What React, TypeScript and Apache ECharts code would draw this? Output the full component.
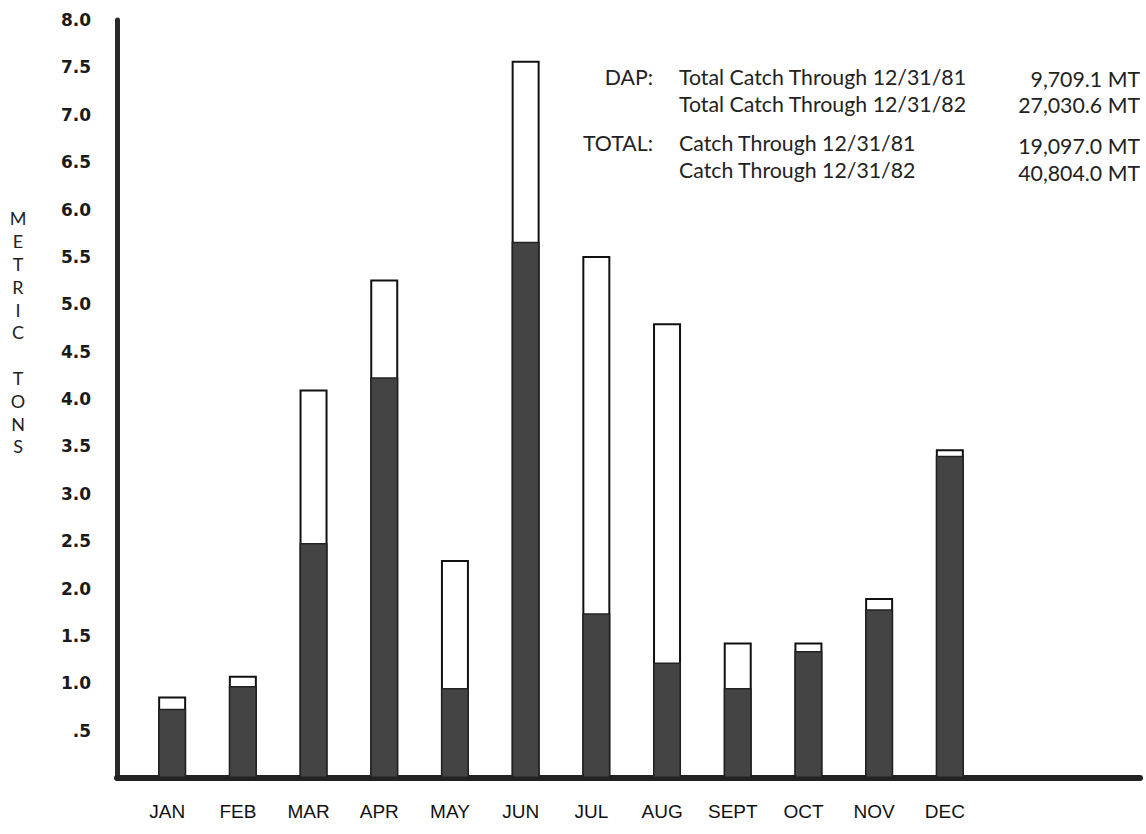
import React, { useEffect, useRef } from "react";
import * as echarts from "echarts";

const months = ["JAN", "FEB", "MAR", "APR", "MAY", "JUN", "JUL", "AUG", "SEPT", "OCT", "NOV", "DEC"];
const totalCatch = [0.86, 1.08, 4.1, 5.26, 2.3, 7.57, 5.51, 4.8, 1.43, 1.43, 1.9, 3.47];
const dapCatch = [0.73, 0.97, 2.48, 4.23, 0.95, 5.66, 1.74, 1.22, 0.95, 1.34, 1.78, 3.4];
const yTickLabels = ["", ".5", "1.0", "1.5", "2.0", "2.5", "3.0", "3.5", "4.0", "4.5", "5.0", "5.5", "6.0", "6.5", "7.0", "7.5", "8.0"];
const yAxisTitle = ["M", "E", "T", "R", "I", "C", "", "T", "O", "N", "S"];
const noteHeads = ["DAP:", "TOTAL:"];
const noteLines = [
  "Total Catch Through 12/31/81",
  "Total Catch Through 12/31/82",
  "Catch Through 12/31/81",
  "Catch Through 12/31/82",
];
const noteValues = ["9,709.1 MT", "27,030.6 MT", "19,097.0 MT", "40,804.0 MT"];

const FIRST_OFFSET = 0.78;
const LABEL_SHIFT = -0.07;
const xPos = months.map((_, i) => i + FIRST_OFFSET);

export default function App() {
  const ref = useRef<HTMLDivElement>(null);
  useEffect(() => {
    if (!ref.current) return;
    const chart = echarts.init(ref.current, undefined, { renderer: "svg" });
    const noteFont = "21.3px Lato";
    const headYs = [77, 143];
    const lineYs = [77, 104, 143, 170];
    const valueYs = [79, 105, 146, 173];
    const graphics: any[] = [];
    noteHeads.forEach((t, i) => {
      graphics.push({
        type: "text",
        x: 653,
        y: headYs[i],
        style: { text: t, font: noteFont, fill: "#222", textAlign: "right", textVerticalAlign: "middle" },
      });
    });
    noteLines.forEach((t, i) => {
      graphics.push({
        type: "text",
        x: 679,
        y: lineYs[i],
        style: { text: t, font: noteFont, fill: "#222", textAlign: "left", textVerticalAlign: "middle" },
      });
      graphics.push({
        type: "text",
        x: 1140,
        y: valueYs[i],
        style: { text: noteValues[i], font: noteFont, fill: "#222", textAlign: "right", textVerticalAlign: "middle" },
      });
    });
    graphics.push({
      type: "text",
      x: 18,
      y: 207,
      style: {
        text: yAxisTitle.join("\n"),
        font: "18px Lato",
        lineHeight: 22.8,
        fill: "#222",
        textAlign: "center",
        textVerticalAlign: "top",
      },
    });

    chart.setOption({
      animation: false,
      backgroundColor: "#fff",
      grid: { left: 117, right: 6, top: 20, bottom: 56, containLabel: false },
      xAxis: {
        type: "value",
        min: 0,
        max: 14.47,
        splitLine: { show: false },
        axisTick: { show: false },
        axisLine: { show: true, onZero: false, lineStyle: { color: "#222", width: 6 } },
        axisLabel: {
          customValues: xPos.map((x) => x + LABEL_SHIFT),
          margin: 24,
          color: "#111",
          fontFamily: "Liberation Sans",
          fontSize: 19,
          formatter: (v: number) => {
            const idx = Math.round(v - FIRST_OFFSET - LABEL_SHIFT);
            return months[idx] ?? "";
          },
        },
      },
      yAxis: {
        type: "value",
        min: 0,
        max: 8,
        interval: 0.5,
        splitLine: { show: false },
        axisTick: { show: false },
        axisLine: { show: true, lineStyle: { color: "#2a2a2a", width: 5 } },
        axisLabel: {
          margin: 26,
          color: "#1a1a1a",
          fontFamily: "DejaVu Sans",
          fontWeight: "bold",
          fontSize: 17,
          formatter: (v: number) => yTickLabels[Math.round(v * 2)] ?? "",
        },
      },
      series: [
        {
          name: "TOTAL",
          type: "bar",
          barWidth: 28,
          barGap: "-100%",
          data: xPos.map((x, i) => [x, totalCatch[i]]),
          itemStyle: { color: "#ffffff", borderColor: "#111", borderWidth: 2 },
          z: 2,
        },
        {
          name: "DAP",
          type: "bar",
          barWidth: 28,
          barGap: "-100%",
          data: xPos.map((x, i) => [x, dapCatch[i]]),
          itemStyle: { color: "#444444", borderColor: "#222", borderWidth: 1.5 },
          z: 3,
        },
      ],
      graphic: graphics,
    });
    return () => chart.dispose();
  }, []);
  return <div ref={ref} style={{ position: "absolute", left: 0, top: 0, width: 1146, height: 834 }} />;
}
